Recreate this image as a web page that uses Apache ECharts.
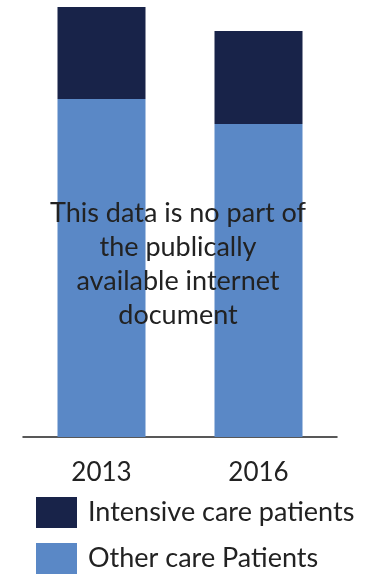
<!DOCTYPE html>
<html>
<head>
<meta charset="utf-8">
<style>
  html, body { margin: 0; padding: 0; background: #ffffff; }
  #chart { width: 373px; height: 574px; }
</style>
<script src="https://cdn.jsdelivr.net/npm/echarts@6/dist/echarts.min.js"></script>
</head>
<body>
<div id="chart"></div>
<script>
// Patient counts per year (arbitrary units), stacked: other care at the bottom, intensive care on top
const years = ['2013', '2016'];
const otherCare = [338, 313];
const intensiveCare = [92, 93];
const seriesNames = ['Intensive care patients', 'Other care Patients'];
const noticeLines = ['This data is no part of', 'the publically', 'available internet', 'document'];

const FONT = 'Lato';
const TEXT = '#222222';
const COLOR_OTHER = '#5a88c6';
const COLOR_INTENSIVE = '#182349';

const chart = echarts.init(document.getElementById('chart'), null, { renderer: 'canvas' });

// one legend entry per component so the two rows stack vertically without wrapping
function legendRow(name, top) {
  return {
    orient: 'vertical',
    left: 36,
    top: top,
    padding: 0,
    itemWidth: 41,
    itemHeight: 31,
    icon: 'rect',
    selectedMode: false,
    data: [name],
    textStyle: { color: TEXT, fontFamily: FONT, fontSize: 27, padding: [5, 0, 0, 6] }
  };
}

chart.setOption({
  animation: false,
  backgroundColor: '#ffffff',
  grid: { left: 23, right: 36, top: 7, bottom: 137, containLabel: false },
  xAxis: {
    type: 'category',
    data: years,
    axisLine: { show: true, lineStyle: { color: '#222222', width: 1.5 } },
    axisTick: { show: false },
    axisLabel: { color: TEXT, fontFamily: FONT, fontSize: 26, margin: 23 }
  },
  yAxis: {
    type: 'value',
    min: 0,
    max: 430,
    show: false,
    splitLine: { show: false }
  },
  legend: [
    legendRow(seriesNames[0], 497),
    legendRow(seriesNames[1], 543)
  ],
  graphic: [
    {
      type: 'text',
      x: 178,
      y: 196,
      z: 100,
      style: {
        text: noticeLines.join('\n'),
        align: 'center',
        verticalAlign: 'top',
        fill: TEXT,
        font: '27px ' + FONT,
        lineHeight: 34
      }
    }
  ],
  series: [
    {
      name: seriesNames[1],
      type: 'bar',
      stack: 'patients',
      barWidth: 88,
      data: otherCare,
      itemStyle: { color: COLOR_OTHER }
    },
    {
      name: seriesNames[0],
      type: 'bar',
      stack: 'patients',
      barWidth: 88,
      data: intensiveCare,
      itemStyle: { color: COLOR_INTENSIVE }
    }
  ]
});
</script>
</body>
</html>
